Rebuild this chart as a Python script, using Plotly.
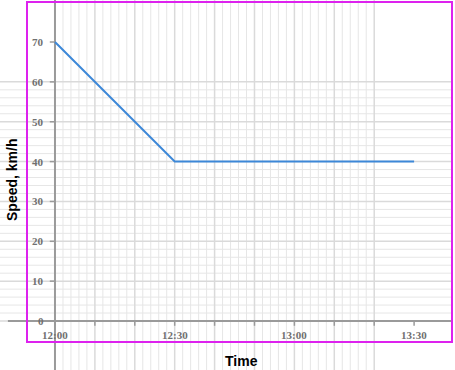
import plotly.graph_objects as go

# ---- data ----
times = ["12:00", "12:30", "13:30"]
speeds = [70, 40, 40]
x_tick_labels = ["12:00", "12:30", "13:00", "13:30"]
y_tick_values = [0, 10, 20, 30, 40, 50, 60, 70]
x_title = "Time"
y_title = "Speed, km/h"

def to_min(t):
    h, m = t.split(":")
    return (int(h) - 12) * 60 + int(m)

xs = [to_min(t) for t in times]
x_ticks = [to_min(t) for t in x_tick_labels]

W, H = 455, 370
# axis ranges chosen so plot area fills the whole figure
XR = [-13.78, 100.25]
YR = [-12.29, 80.54]

GRID_MINOR = "#e6e6e6"
GRID_MAJOR = "#dadada"
AXIS = "#9a9a9a"

fig = go.Figure()

def seg_trace(xl, yl, color, width):
    fig.add_trace(go.Scatter(x=xl, y=yl, mode="lines",
                             line=dict(color=color, width=width),
                             hoverinfo="skip", showlegend=False))

# vertical grid: every 2 minutes from 12:00 to 13:20
vx_min, vy_min, vx_maj, vy_maj = [], [], [], []
for m in range(0, 81, 2):
    if m % 10 == 0:
        vx_maj += [m, m, None]; vy_maj += [YR[0], YR[1], None]
    else:
        vx_min += [m, m, None]; vy_min += [YR[0], YR[1], None]
# horizontal grid: every 2 units from 0 to 60
hx_min, hy_min, hx_maj, hy_maj = [], [], [], []
for v in range(0, 61, 2):
    if v % 10 == 0:
        hx_maj += [XR[0], 99.5, None]; hy_maj += [v, v, None]
    else:
        hx_min += [XR[0], 99.5, None]; hy_min += [v, v, None]

seg_trace(vx_min, vy_min, GRID_MINOR, 1)
seg_trace(hx_min, hy_min, GRID_MINOR, 1)
seg_trace(vx_maj, vy_maj, GRID_MAJOR, 1.5)
seg_trace(hx_maj, hy_maj, GRID_MAJOR, 1.5)

# axis lines
seg_trace([0, 0], [YR[0], YR[1]], AXIS, 2)
seg_trace([-11.8, 99.5], [0, 0], AXIS, 2)

# tick marks
ytx, yty = [], []
for v in y_tick_values:
    ytx += [-1.3, 0, None]; yty += [v, v, None]
seg_trace(ytx, yty, AXIS, 1.5)
xtx, xty = [], []
for m in range(0, 91, 10):
    xtx += [m, m, None]; xty += [0, -1.2, None]
seg_trace(xtx, xty, AXIS, 1.5)

# data line
fig.add_trace(go.Scatter(x=xs, y=speeds, mode="lines",
                         line=dict(color="#3d88d8", width=2),
                         showlegend=False))

tick_font = dict(family="Liberation Serif, Times New Roman, serif", size=11, color="#707070")
annotations = []
for v in y_tick_values:
    annotations.append(dict(x=-2.2, y=v, xref="x", yref="y", text="<b>%d</b>" % v,
                            showarrow=False, xanchor="right", yanchor="middle", font=tick_font))
for lab, m in zip(x_tick_labels, x_ticks):
    annotations.append(dict(x=m, y=-3.4, xref="x", yref="y", text="<b>%s</b>" % lab,
                            showarrow=False, xanchor="center", yanchor="middle", font=tick_font))

title_font = dict(family="Liberation Sans, Arial, sans-serif", size=14, color="#000000")
annotations.append(dict(x=241 / W, y=1 - 361 / H, xref="paper", yref="paper",
                        text="<b>%s</b>" % x_title, showarrow=False,
                        xanchor="center", yanchor="middle", font=title_font))
annotations.append(dict(x=12 / W, y=1 - 180 / H, xref="paper", yref="paper",
                        text="<b>%s</b>" % y_title, showarrow=False, textangle=-90,
                        xanchor="center", yanchor="middle", font=title_font))

fig.update_layout(
    width=W, height=H,
    margin=dict(l=0, r=0, t=0, b=0),
    paper_bgcolor="white", plot_bgcolor="white",
    xaxis=dict(range=XR, visible=False, showgrid=False, zeroline=False, fixedrange=True),
    yaxis=dict(range=YR, visible=False, showgrid=False, zeroline=False, fixedrange=True),
    annotations=annotations,
    shapes=[dict(type="rect", xref="paper", yref="paper",
                 x0=27 / W, x1=452 / W, y0=1 - 342 / H, y1=1 - 2 / H,
                 line=dict(color="#dd22ee", width=2), layer="above")],
    showlegend=False,
)

fig.write_html("out.html", config={"displayModeBar": False})
